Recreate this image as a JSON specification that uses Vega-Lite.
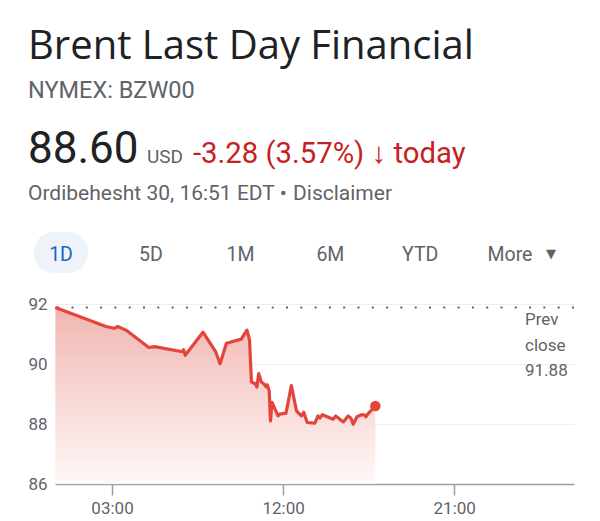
{
  "$schema": "https://vega.github.io/schema/vega-lite/v6.json",
  "width": 519,
  "height": 180,
  "autosize": {"type": "none"},
  "padding": {"left": 55, "top": 304, "right": 26, "bottom": 37},
  "background": "white",
  "config": {
    "view": {"stroke": null},
    "font": "Roboto",
    "text": {"font": "Roboto"}
  },
  "datasets": {
    "prices": [
      {"time": "2024-05-20T00:01", "price": 91.88},
      {"time": "2024-05-20T02:41", "price": 91.25},
      {"time": "2024-05-20T03:07", "price": 91.19},
      {"time": "2024-05-20T03:18", "price": 91.25},
      {"time": "2024-05-20T03:44", "price": 91.13},
      {"time": "2024-05-20T04:56", "price": 90.55},
      {"time": "2024-05-20T05:14", "price": 90.58},
      {"time": "2024-05-20T06:43", "price": 90.41},
      {"time": "2024-05-20T06:46", "price": 90.48},
      {"time": "2024-05-20T06:51", "price": 90.29},
      {"time": "2024-05-20T07:47", "price": 91.06},
      {"time": "2024-05-20T08:27", "price": 90.41},
      {"time": "2024-05-20T08:41", "price": 90.01},
      {"time": "2024-05-20T09:01", "price": 90.69},
      {"time": "2024-05-20T09:48", "price": 90.83},
      {"time": "2024-05-20T09:56", "price": 90.97},
      {"time": "2024-05-20T10:06", "price": 91.13},
      {"time": "2024-05-20T10:14", "price": 90.8},
      {"time": "2024-05-20T10:20", "price": 89.4},
      {"time": "2024-05-20T10:32", "price": 89.34},
      {"time": "2024-05-20T10:37", "price": 89.23},
      {"time": "2024-05-20T10:43", "price": 89.68},
      {"time": "2024-05-20T10:51", "price": 89.4},
      {"time": "2024-05-20T10:59", "price": 89.34},
      {"time": "2024-05-20T11:07", "price": 89.23},
      {"time": "2024-05-20T11:10", "price": 89.31},
      {"time": "2024-05-20T11:16", "price": 89.11},
      {"time": "2024-05-20T11:20", "price": 88.1},
      {"time": "2024-05-20T11:25", "price": 88.72},
      {"time": "2024-05-20T11:44", "price": 88.27},
      {"time": "2024-05-20T11:49", "price": 88.33},
      {"time": "2024-05-20T12:09", "price": 88.36},
      {"time": "2024-05-20T12:26", "price": 89.28},
      {"time": "2024-05-20T12:42", "price": 88.44},
      {"time": "2024-05-20T12:58", "price": 88.27},
      {"time": "2024-05-20T13:05", "price": 88.39},
      {"time": "2024-05-20T13:16", "price": 88.05},
      {"time": "2024-05-20T13:40", "price": 88.03},
      {"time": "2024-05-20T13:50", "price": 88.27},
      {"time": "2024-05-20T13:56", "price": 88.2},
      {"time": "2024-05-20T14:04", "price": 88.31},
      {"time": "2024-05-20T14:38", "price": 88.16},
      {"time": "2024-05-20T14:46", "price": 88.27},
      {"time": "2024-05-20T15:10", "price": 88.07},
      {"time": "2024-05-20T15:25", "price": 88.27},
      {"time": "2024-05-20T15:34", "price": 88.19},
      {"time": "2024-05-20T15:41", "price": 87.99},
      {"time": "2024-05-20T15:53", "price": 88.24},
      {"time": "2024-05-20T16:08", "price": 88.31},
      {"time": "2024-05-20T16:18", "price": 88.3},
      {"time": "2024-05-20T16:21", "price": 88.24},
      {"time": "2024-05-20T16:32", "price": 88.39},
      {"time": "2024-05-20T16:51", "price": 88.6}
    ],
    "tabs": [
      {"tab": "1D"},
      {"tab": "5D"},
      {"tab": "1M"},
      {"tab": "6M"},
      {"tab": "YTD"},
      {"tab": "More"}
    ]
  },
  "resolve": {"scale": {"x": "independent"}},
  "layer": [
    {
      "data": {"values": [{"label": "Brent Last Day Financial"}]},
      "mark": {"type": "text", "x": -27, "y": -245, "align": "left", "baseline": "alphabetic", "fontSize": 40, "font": "Open Sans", "color": "#202124"},
      "encoding": {"text": {"field": "label"}}
    },
    {
      "data": {"values": [{"label": "NYMEX: BZW00"}]},
      "mark": {"type": "text", "x": -27, "y": -206, "align": "left", "baseline": "alphabetic", "fontSize": 23.5, "color": "#5f6368"},
      "encoding": {"text": {"field": "label"}}
    },
    {
      "data": {"values": [{"label": "88.60"}]},
      "mark": {"type": "text", "x": -27, "y": -141, "align": "left", "baseline": "alphabetic", "fontSize": 44, "color": "#202124"},
      "encoding": {"text": {"field": "label"}}
    },
    {
      "data": {"values": [{"label": "USD"}]},
      "mark": {"type": "text", "x": 92, "y": -141, "align": "left", "baseline": "alphabetic", "fontSize": 19, "color": "#5f6368"},
      "encoding": {"text": {"field": "label"}}
    },
    {
      "data": {"values": [{"label": "-3.28 (3.57%) ↓ today"}]},
      "mark": {"type": "text", "x": 138, "y": -141, "align": "left", "baseline": "alphabetic", "fontSize": 29.3, "color": "#c5221f"},
      "encoding": {"text": {"field": "label"}}
    },
    {
      "data": {"values": [{"label": "Ordibehesht 30, 16:51 EDT •"}]},
      "mark": {"type": "text", "x": -27, "y": -104, "align": "left", "baseline": "alphabetic", "fontSize": 21, "color": "#5f6368"},
      "encoding": {"text": {"field": "label"}}
    },
    {
      "data": {"values": [{"label": "Disclaimer"}]},
      "mark": {"type": "text", "x": 238, "y": -104, "align": "left", "baseline": "alphabetic", "fontSize": 21, "color": "#5f6368"},
      "encoding": {"text": {"field": "label"}}
    },
    {
      "data": {"values": [{}]},
      "mark": {"type": "rule", "x": 238, "x2": 343, "y": -100.5, "stroke": "#5f6368", "strokeWidth": 1.5},
      "encoding": {}
    },
    {
      "data": {"values": [{}]},
      "mark": {"type": "rect", "x": -21, "x2": 33, "y": -72, "y2": -31, "cornerRadius": 20, "fill": "#eef3fa"},
      "encoding": {}
    },
    {
      "data": {"name": "tabs"},
      "mark": {"type": "text", "y": -43, "align": "center", "baseline": "alphabetic", "fontSize": 19.5},
      "encoding": {
        "x": {
          "field": "tab",
          "type": "ordinal",
          "sort": null,
          "scale": {"type": "point", "domain": ["1D", "5D", "1M", "6M", "YTD", "More"], "range": [6, 455], "padding": 0},
          "axis": null
        },
        "text": {"field": "tab"},
        "color": {
          "condition": {"test": "datum.tab === '1D'", "value": "#1a64c8"},
          "value": "#5f6368"
        }
      }
    },
    {
      "data": {"values": [{"label": "▼"}]},
      "mark": {"type": "text", "x": 496, "y": -46, "align": "center", "baseline": "alphabetic", "fontSize": 13, "color": "#5f6368", "font": "DejaVu Sans"},
      "encoding": {"text": {"field": "label"}}
    },
    {
      "layer": [
        {
          "data": {"values": [{"prev": 91.88}]},
          "mark": {"type": "rule", "stroke": "#5f6368", "strokeWidth": 2, "strokeDash": [2, 12.3], "strokeCap": "butt"},
          "encoding": {
            "y": {"field": "prev", "type": "quantitative", "scale": {"domain": [86, 92], "nice": false, "zero": false}}
          }
        },
        {
          "data": {"name": "prices"},
          "mark": {
            "type": "area",
            "color": {
              "gradient": "linear",
              "x1": 0, "y1": 0, "x2": 0, "y2": 1,
              "stops": [
                {"offset": 0, "color": "#f1b6b1"},
                {"offset": 1, "color": "#fff8f7"}
              ]
            }
          },
          "encoding": {
            "x": {
              "field": "time",
              "type": "temporal",
              "scale": {
                "domain": [
                  {"year": 2024, "month": 5, "date": 20, "hours": 0},
                  {"year": 2024, "month": 5, "date": 21, "hours": 3, "minutes": 18}
                ]
              },
              "axis": {
                "title": null,
                "values": [
                  {"year": 2024, "month": 5, "date": 20, "hours": 3},
                  {"year": 2024, "month": 5, "date": 20, "hours": 12},
                  {"year": 2024, "month": 5, "date": 20, "hours": 21}
                ],
                "format": "%H:%M",
                "grid": false,
                "domainColor": "#9aa0a6",
                "domainWidth": 1.5,
                "tickColor": "#9aa0a6",
                "tickWidth": 1.5,
                "tickSize": 11,
                "labelPadding": 5,
                "labelFontSize": 17,
                "labelColor": "#5f6368",
                "labelFont": "Roboto"
              }
            },
            "y": {
              "field": "price",
              "type": "quantitative",
              "scale": {"domain": [86, 92], "nice": false, "zero": false},
              "axis": {
                "title": null,
                "values": [86, 88, 90, 92],
                "domain": false,
                "ticks": false,
                "grid": true,
                "gridColor": "#eeeeee",
                "gridWidth": 1,
                "labelPadding": 8,
                "labelFontSize": 17,
                "labelColor": "#5f6368",
                "labelFont": "Roboto"
              }
            },
            "y2": {"datum": 86}
          }
        },
        {
          "data": {"name": "prices"},
          "mark": {"type": "line", "color": "#e3453a", "strokeWidth": 3.2, "strokeJoin": "round"},
          "encoding": {
            "x": {"field": "time", "type": "temporal"},
            "y": {"field": "price", "type": "quantitative"}
          }
        },
        {
          "data": {"name": "prices"},
          "transform": [{"filter": "datum.price == 88.6"}],
          "mark": {"type": "point", "filled": true, "opacity": 1, "size": 110, "color": "#e3453a"},
          "encoding": {
            "x": {"field": "time", "type": "temporal"},
            "y": {"field": "price", "type": "quantitative"}
          }
        }
      ]
    },
    {
      "data": {"values": [{"label": "Prev\nclose\n91.88"}]},
      "mark": {"type": "text", "x": 470, "y": 21, "align": "left", "baseline": "alphabetic", "fontSize": 17, "lineHeight": 25.5, "lineBreak": "\n", "color": "#5f6368"},
      "encoding": {"text": {"field": "label"}}
    }
  ]
}
